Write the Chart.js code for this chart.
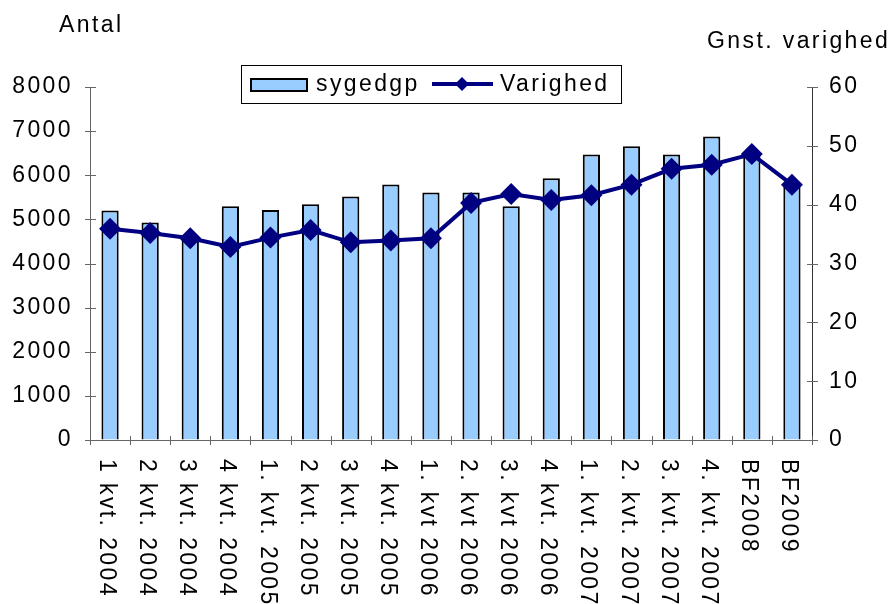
<!DOCTYPE html>
<html>
<head>
<meta charset="utf-8">
<script src="https://cdn.jsdelivr.net/npm/chart.js@4/dist/chart.umd.min.js"></script>
<style>
  html, body { margin: 0; padding: 0; background: #ffffff; }
  #wrap { position: relative; width: 893px; height: 604px; }
  canvas { display: block; }
</style>
</head>
<body>
<div id="wrap"><canvas id="c" width="893" height="604"></canvas></div>
<script>
// ---- data ----
const categories = [
  "1 kvt. 2004", "2 kvt. 2004", "3 kvt. 2004", "4 kvt. 2004",
  "1. kvt. 2005", "2 kvt. 2005", "3 kvt. 2005", "4 kvt. 2005",
  "1. kvt 2006", "2. kvt 2006", "3. kvt 2006", "4 kvt. 2006",
  "1. kvt. 2007", "2. kvt. 2007", "3. kvt. 2007", "4. kvt. 2007",
  "BF2008", "BF2009"
];
const sygedgp = [5200, 4930, 4560, 5300, 5210, 5340, 5520, 5790, 5610,
                 5610, 5300, 5930, 6470, 6660, 6470, 6880, 6450, 5740];
const varighed = [35.9, 35.2, 34.3, 32.8, 34.4, 35.7, 33.6, 33.9, 34.3,
                  40.3, 41.8, 40.8, 41.6, 43.4, 46.1, 46.8, 48.6, 43.4];
const leftTicks = [0, 1000, 2000, 3000, 4000, 5000, 6000, 7000, 8000];
const rightTicks = [0, 10, 20, 30, 40, 50, 60];
const seriesNames = ["sygedgp", "Varighed"];
const leftTitle = "Antal";
const rightTitle = "Gnst. varighed";

// ---- style ----
const FAMILY = "'Liberation Sans', Arial, sans-serif";
const FSIZE = 23;
const FONT = FSIZE + "px " + FAMILY;
const SPACING = "2.4px";
const BAR_FILL = "#99CCFF";
const LINE_COL = "#000080";
const AXIS_COL = "#666666";

const deco = {
  id: "deco",
  beforeUpdate(chart) { chart.ctx.letterSpacing = SPACING; },
  beforeLayout(chart) { chart.ctx.letterSpacing = SPACING; },
  beforeDraw(chart) { chart.ctx.letterSpacing = SPACING; },
  afterDraw(chart) {
    const ctx = chart.ctx;
    const xs = chart.scales.x, yl = chart.scales.y, yr = chart.scales.y1;
    const area = chart.chartArea;
    ctx.save();
    ctx.letterSpacing = SPACING;

    // crossing tick marks
    ctx.lineWidth = 1;
    ctx.strokeStyle = AXIS_COL;
    ctx.beginPath();
    leftTicks.forEach(v => {
      const y = Math.round(yl.getPixelForValue(v)) + 0.5;
      ctx.moveTo(area.left - 5, y); ctx.lineTo(area.left + 6, y);
    });
    rightTicks.forEach(v => {
      const y = Math.round(yr.getPixelForValue(v)) + 0.5;
      ctx.moveTo(area.right - 5, y); ctx.lineTo(area.right + 6, y);
    });
    const n = categories.length;
    const cw = (area.right - area.left) / n;
    for (let i = 0; i <= n; i++) {
      const x = Math.round(area.left + i * cw) + 0.5;
      ctx.moveTo(x, area.bottom - 4); ctx.lineTo(x, area.bottom + 5);
    }
    ctx.stroke();

    // rotated category labels (reading top to bottom)
    ctx.fillStyle = "#000";
    ctx.font = FONT;
    ctx.textAlign = "left";
    ctx.textBaseline = "alphabetic";
    categories.forEach((lab, i) => {
      const x = xs.getPixelForValue(i);
      ctx.save();
      ctx.translate(x, area.bottom + 19);
      ctx.rotate(Math.PI / 2);
      ctx.fillText(lab, 0, 10);
      ctx.restore();
    });

    // axis titles
    ctx.fillText(leftTitle, 59, 32);
    ctx.fillText(rightTitle, 707, 48);

    // legend
    ctx.letterSpacing = "0px";
    ctx.fillStyle = "#fff";
    ctx.fillRect(241, 65, 381, 38);
    ctx.strokeStyle = "#000";
    ctx.lineWidth = 1;
    ctx.strokeRect(241.5, 65.5, 380, 38);
    ctx.fillStyle = BAR_FILL;
    ctx.fillRect(251, 79, 56, 12);
    ctx.lineWidth = 2;
    ctx.strokeRect(251, 79, 56, 12);
    ctx.strokeStyle = LINE_COL;
    ctx.lineWidth = 4;
    ctx.beginPath();
    ctx.moveTo(432, 84); ctx.lineTo(493, 84);
    ctx.stroke();
    ctx.fillStyle = LINE_COL;
    ctx.beginPath();
    ctx.moveTo(462 - 7, 84); ctx.lineTo(462, 84 - 7);
    ctx.lineTo(462 + 7, 84); ctx.lineTo(462, 84 + 7);
    ctx.closePath(); ctx.fill();
    ctx.letterSpacing = SPACING;
    ctx.fillStyle = "#000";
    ctx.font = FONT;
    ctx.fillText(seriesNames[0], 316, 91);
    ctx.fillText(seriesNames[1], 500, 91);
    ctx.restore();
  }
};

new Chart(document.getElementById("c"), {
  type: "bar",
  data: {
    labels: categories,
    datasets: [
      {
        type: "line",
        label: seriesNames[1],
        data: varighed,
        yAxisID: "y1",
        borderColor: LINE_COL,
        backgroundColor: LINE_COL,
        borderWidth: 4,
        pointStyle: "rectRot",
        pointRadius: 11,
        pointBorderWidth: 0,
        pointBackgroundColor: LINE_COL,
        tension: 0,
        order: 0
      },
      {
        type: "bar",
        label: seriesNames[0],
        data: sygedgp,
        yAxisID: "y",
        backgroundColor: BAR_FILL,
        borderColor: "#000",
        borderWidth: 2,
        barPercentage: 0.43,
        categoryPercentage: 1,
        order: 1
      }
    ]
  },
  options: {
    responsive: false,
    animation: false,
    devicePixelRatio: 1,
    layout: { padding: { top: 87, left: 0, right: 0, bottom: 0 } },
    plugins: { legend: { display: false }, tooltip: { enabled: false }, title: { display: false } },
    scales: {
      x: {
        grid: { display: true, drawOnChartArea: false, drawTicks: false },
        border: { display: true, color: AXIS_COL, width: 1 },
        ticks: { display: false },
        afterFit(s) { s.height = 164; }
      },
      y: {
        position: "left",
        min: 0, max: 8000,
        afterBuildTicks(s) { s.ticks = leftTicks.map(v => ({ value: v })); },
        grid: { display: true, drawOnChartArea: false, drawTicks: false },
        border: { display: true, color: AXIS_COL, width: 1 },
        ticks: { color: "#000", font: { family: FAMILY, size: FSIZE }, padding: 17,
                 callback: v => String(v) },
        afterFit(s) { s.width = 90; }
      },
      y1: {
        position: "right",
        min: 0, max: 60,
        afterBuildTicks(s) { s.ticks = rightTicks.map(v => ({ value: v })); },
        grid: { display: true, drawOnChartArea: false, drawTicks: false },
        border: { display: true, color: "#333", width: 1 },
        ticks: { color: "#000", font: { family: FAMILY, size: FSIZE }, padding: 17,
                 callback: v => String(v) },
        afterFit(s) { s.width = 81; }
      }
    }
  },
  plugins: [deco]
});
</script>
</body>
</html>
